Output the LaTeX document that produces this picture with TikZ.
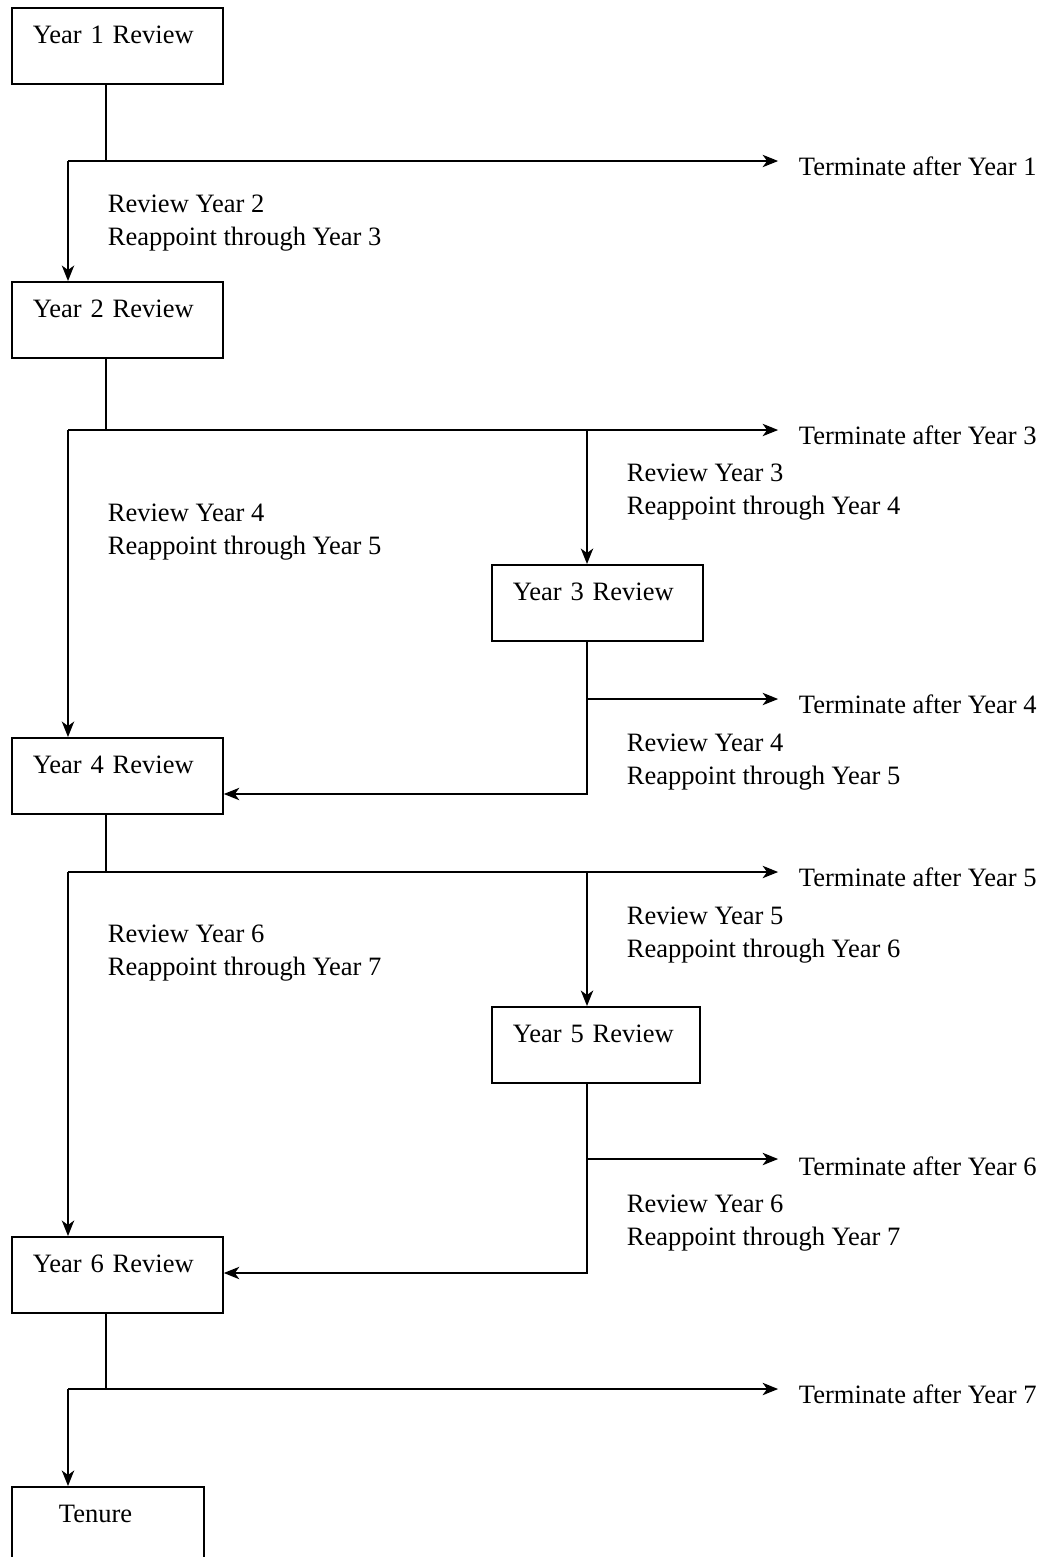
\documentclass[12pt,tikz,border=0pt]{standalone}
\usepackage{fontspec}
\setmainfont{Liberation Serif}
\usetikzlibrary{arrows.meta}
\tikzset{
  revbox/.style={draw,anchor=north west,inner xsep=9.5pt,inner ysep=0pt,text width=76.5pt,align=left,text height=16.3pt,text depth=18.1pt},
  note/.style={anchor=base west,inner sep=0pt,align=left},
  term/.style={->,shorten >=9pt},
}
\begin{document}
\begin{tikzpicture}[x=0.4525pt,y=-0.4525pt,line width=0.8pt,>={Stealth[length=7pt,width=5.6pt,inset=2pt]}]
    \clip (0,0) rectangle (1047,1557);
    % review boxes
    \node[revbox] (y1) at (11,7) {Year 1 Review};
    \node[revbox] (y2) at (11,281) {Year 2 Review};
    \node[revbox] (y3) at (491,564) {Year 3 Review};
    \node[revbox] (y4) at (11,737) {Year 4 Review};
    \node[revbox,text width=75pt] (y5) at (491,1006) {Year 5 Review};
    \node[revbox] (y6) at (11,1236) {Year 6 Review};
    \node[revbox,inner xsep=21.3pt,text width=44.3pt,text depth=28.9pt] (ten) at (11,1486) {Tenure};
    % outcomes
    \node[note] (t1) at (798,175) {Terminate after Year 1};
    \node[note] (t3) at (798,444) {Terminate after Year 3};
    \node[note] (t4) at (798,713) {Terminate after Year 4};
    \node[note] (t5) at (798,886) {Terminate after Year 5};
    \node[note] (t6) at (798,1175) {Terminate after Year 6};
    \node[note] (t7) at (798,1403) {Terminate after Year 7};
    % reappointments (base = last line)
    \node[note] (r2) at (107,245) {Review Year 2\\Reappoint through Year 3};
    \node[note] (r3) at (626,514) {Review Year 3\\Reappoint through Year 4};
    \node[note] (r4a) at (107,554) {Review Year 4\\Reappoint through Year 5};
    \node[note] (r4b) at (626,784) {Review Year 4\\Reappoint through Year 5};
    \node[note] (r5) at (626,957) {Review Year 5\\Reappoint through Year 6};
    \node[note] (r6a) at (107,975) {Review Year 6\\Reappoint through Year 7};
    \node[note] (r6b) at (626,1245) {Review Year 6\\Reappoint through Year 7};
    % junctions
    \coordinate (j1) at (106,161); \coordinate (k1) at (68,161);
    \coordinate (j2) at (106,430); \coordinate (k2) at (68,430);
    \coordinate (j4) at (106,872); \coordinate (k4) at (68,872);
    \coordinate (j6) at (106,1389); \coordinate (k6) at (68,1389);
    \coordinate (v3) at (587,430); \coordinate (f4) at (587,699); \coordinate (b3) at (587,794);
    \coordinate (v5) at (587,872); \coordinate (f6) at (587,1159); \coordinate (b5) at (587,1273);
    % left column
    \foreach \up/\down/\tm/\n in {y1/y2/t1/1,y2/y4/t3/2,y4/y6/t5/4,y6/ten/t7/6}{
      \draw (j\n |- \up.south) -- (j\n);
      \draw[->] (k\n) -- (k\n |- \down.north);
      \draw[term] (k\n) -- (k\n -| \tm.west);
    }
    % right column
    \draw[->] (v3) -- (v3 |- y3.north);
    \draw[->] (v3 |- y3.south) |- (b3 -| y4.east);
    \draw[term] (f4) -- (f4 -| t4.west);
    \draw[->] (v5) -- (v5 |- y5.north);
    \draw[->] (v5 |- y5.south) |- (b5 -| y6.east);
    \draw[term] (f6) -- (f6 -| t6.west);
\end{tikzpicture}
\end{document}
